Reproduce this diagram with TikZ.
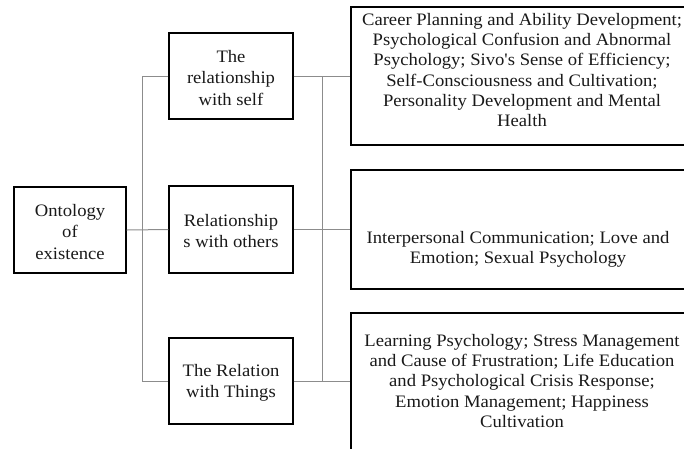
\documentclass[tikz,border=0pt]{standalone}
\usepackage{fontspec}
\setmainfont{Liberation Serif}[FakeStretch=1.065,Ligatures=TeXOff]
\begin{document}
\begin{tikzpicture}[x=1pt,y=-1pt,
  box/.style={draw=black,line width=1.4pt,rectangle,inner sep=0pt},
  conn/.style={draw=black!45,line width=1pt},
  lbl/.style={align=center,inner sep=0pt,text=black!90,font=\fontsize{17.5}{21.5}\selectfont},
  rlbl/.style={align=center,inner sep=0pt,text=black!90,font=\fontsize{17.5}{20.2}\selectfont}]
\clip (0,0) rectangle (684,448);
% boxes
\node[box,minimum width=112pt,minimum height=86pt] (root) at (70,230) {};
\node[box,minimum width=124pt,minimum height=86pt] (mid1) at (231,76) {};
\node[box,minimum width=124pt,minimum height=87pt] (mid2) at (231,229.5) {};
\node[box,minimum width=124pt,minimum height=86pt] (mid3) at (231,381) {};
\node[box,minimum width=341pt,minimum height=138pt] (right1) at (521.5,76) {};
\node[box,minimum width=341pt,minimum height=119pt] (right2) at (521.5,229.5) {};
\node[box,minimum width=341pt,minimum height=150pt] (right3) at (521.5,388) {};
% labels
\node[lbl] (troot) at (70,232) {Ontology\\of\\existence};
\node[lbl] (tmid1) at (231,78) {The\\relationship\\with self};
\node[lbl] (tmid2) at (231,231) {Relationship\\s with others};
\node[lbl] (tmid3) at (231,383) {The Relation\\with Things};
\node[rlbl] (tr1) at (522,70) {Career Planning and Ability Development;\\Psychological Confusion and Abnormal\\Psychology; Sivo's Sense of Efficiency;\\Self-Consciousness and Cultivation;\\Personality Development and Mental\\Health};
\node[rlbl] (tr2) at (518,249) {Interpersonal Communication; Love and\\Emotion; Sexual Psychology};
\node[rlbl] (tr3) at (522,381) {Learning Psychology; Stress Management\\and Cause of Frustration; Life Education\\and Psychological Crisis Response;\\Emotion Management; Happiness\\Cultivation};
% bus coordinates
\coordinate (lt) at (142,76);
\coordinate (lb) at (142,381);
\coordinate (rt) at (322,76);
\coordinate (rb) at (322,381);
% connectors
\draw[conn] (root.east) -- (mid2.west);
\draw[conn] (mid1.west) -- (lt) -- (lb) -- (mid3.west);
\draw[conn] (mid1.east) -- (right1.west);
\draw[conn] (mid2.east) -- (right2.west);
\draw[conn] (mid3.east) -- (mid3.east -| right3.west);
\draw[conn] (rt) -- (rb);
\end{tikzpicture}
\end{document}
